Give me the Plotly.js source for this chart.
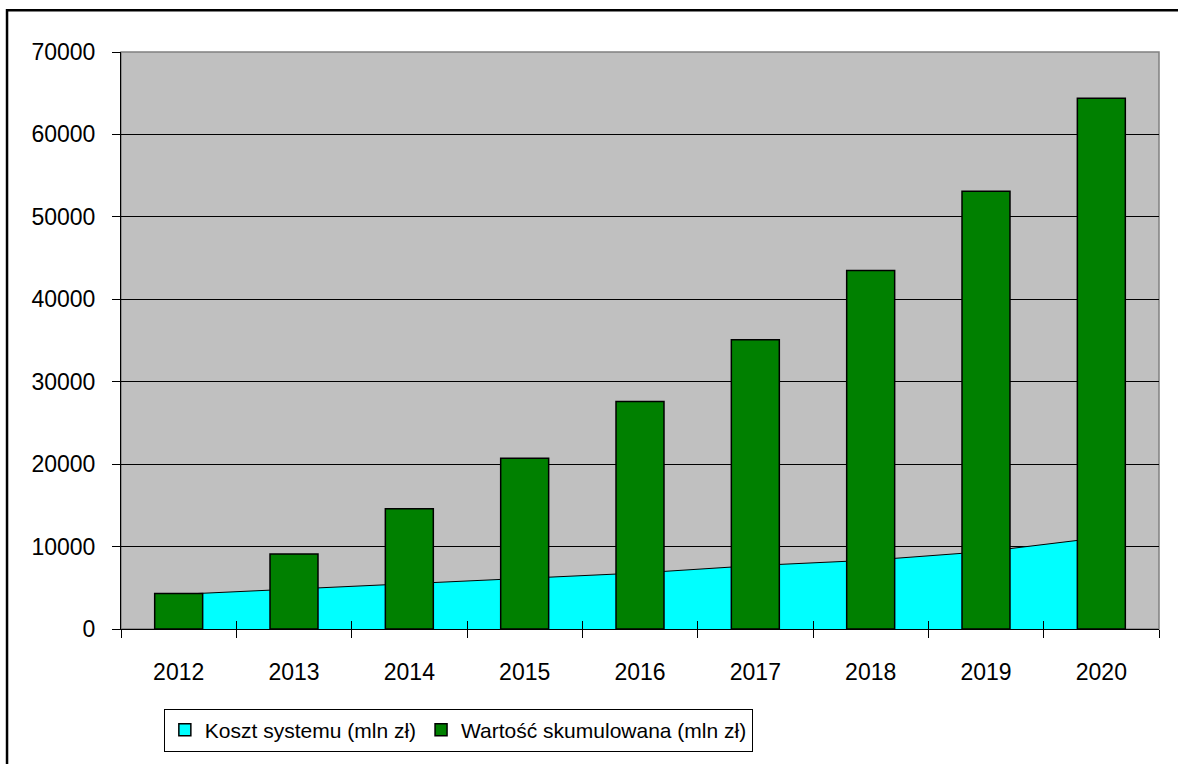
<!DOCTYPE html>
<html>
<head>
<meta charset="utf-8">
<script src="https://cdn.plot.ly/plotly-3.0.1.min.js"></script>
<style>
html,body{margin:0;padding:0;background:#fff;}
#chart{width:1178px;height:764px;}
.legend .traces{opacity:1 !important;}
</style>
</head>
<body>
<div id="chart"></div>
<script>
var years = ['2012','2013','2014','2015','2016','2017','2018','2019','2020'];
var kosztSystemu = [4200, 4850, 5500, 6200, 6800, 7700, 8350, 9400, 11100];
var wartoscSkumulowana = [4300, 9100, 14600, 20700, 27600, 35100, 43500, 53100, 64400];
var yTicks = [0, 10000, 20000, 30000, 40000, 50000, 60000, 70000];

var FONT = 'Liberation Sans, Arial, sans-serif';
var NAME_KOSZT = 'Koszt systemu (mln zł)';
var NAME_WARTOSC = 'Wartość skumulowana (mln zł)';

var traces = [
  {
    type: 'scatter',
    mode: 'lines',
    name: NAME_KOSZT,
    legendgroup: 'koszt',
    showlegend: false,
    x: years,
    y: kosztSystemu,
    xaxis: 'x',
    yaxis: 'y',
    fill: 'tozeroy',
    fillcolor: '#00FFFF',
    line: {color: '#000000', width: 1}
  },
  {
    // legend entry only (square key like the original), same series
    type: 'bar',
    name: NAME_KOSZT,
    legendgroup: 'koszt',
    visible: 'legendonly',
    legendrank: 1,
    x: years,
    y: kosztSystemu,
    xaxis: 'x2',
    yaxis: 'y2',
    marker: {color: '#00FFFF', line: {color: '#000000', width: 1.5}}
  },
  {
    type: 'bar',
    name: NAME_WARTOSC,
    legendrank: 2,
    x: years,
    y: wartoscSkumulowana,
    xaxis: 'x2',
    yaxis: 'y2',
    marker: {color: '#008000', line: {color: '#000000', width: 1.5}}
  }
];

var catAxisBase = {
  type: 'category',
  categoryorder: 'array',
  categoryarray: years,
  range: [-0.5, 8.5],
  fixedrange: true
};

var layout = {
  width: 1178,
  height: 764,
  margin: {l: 121, r: 19, t: 52, b: 131, pad: 0},
  paper_bgcolor: '#FFFFFF',
  plot_bgcolor: '#C0C0C0',
  font: {family: FONT, color: '#000000', size: 23},
  showlegend: true,
  bargap: 0.584,
  xaxis: Object.assign({}, catAxisBase, {
    showline: true, linecolor: '#000000', linewidth: 1,
    showgrid: false, zeroline: false,
    ticks: 'outside', tickson: 'boundaries', ticklen: 8, tickcolor: '#000000', tickwidth: 1,
    tickfont: {family: FONT, size: 23, color: '#000000'},
    ticklabelstandoff: 22
  }),
  xaxis2: Object.assign({}, catAxisBase, {
    overlaying: 'x', anchor: 'y2', side: 'bottom',
    showline: false, showgrid: false, zeroline: false,
    ticks: 'inside', tickson: 'boundaries', ticklen: 8, tickcolor: '#000000', tickwidth: 1,
    showticklabels: false
  }),
  yaxis: {
    range: [0, 70000],
    tickvals: yTicks,
    ticktext: yTicks.map(String),
    showline: true, linecolor: '#000000', linewidth: 1,
    showgrid: true, gridcolor: '#000000', gridwidth: 1,
    zeroline: false,
    ticks: 'outside', ticklen: 8, tickcolor: '#000000', tickwidth: 1,
    tickfont: {family: FONT, size: 23, color: '#000000'},
    ticklabelstandoff: 12,
    fixedrange: true
  },
  yaxis2: {
    overlaying: 'y', anchor: 'x2', side: 'left',
    range: [0, 70000],
    showline: false, showgrid: false, zeroline: false,
    showticklabels: false, ticks: '',
    fixedrange: true
  },
  legend: {
    orientation: 'h',
    x: 0.325, xanchor: 'center',
    y: -0.138, yanchor: 'top',
    bgcolor: '#FFFFFF',
    bordercolor: '#000000', borderwidth: 1,
    font: {family: FONT, size: 21, color: '#000000'},
    itemwidth: 30,
    itemclick: false,
    itemdoubleclick: false,
    traceorder: 'normal'
  },
  shapes: [
    {
      type: 'rect', xref: 'x domain', yref: 'y domain',
      x0: 0, x1: 1, y0: 0, y1: 1,
      line: {color: '#808080', width: 1.5},
      layer: 'below'
    },
    {
      type: 'rect', xref: 'paper', yref: 'paper',
      x0: -0.1098, x1: 1.2, y0: -0.5, y1: 1.0723,
      line: {color: '#000000', width: 2.5},
      fillcolor: 'rgba(0,0,0,0)',
      layer: 'above'
    }
  ]
};

Plotly.newPlot('chart', traces, layout, {displayModeBar: false, staticPlot: true});
</script>
</body>
</html>
